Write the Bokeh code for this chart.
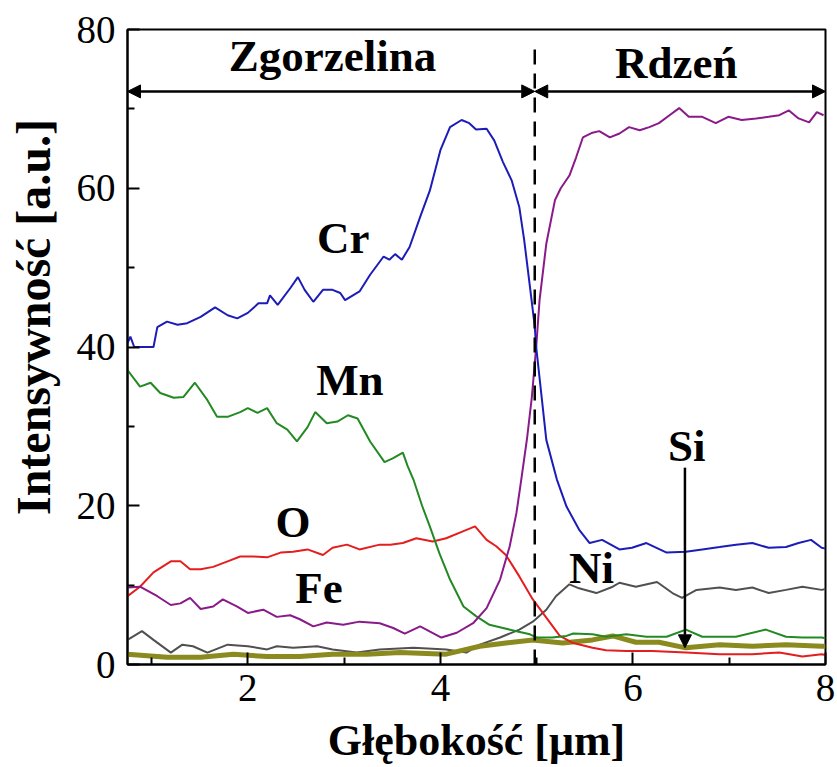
from bokeh.plotting import figure
from bokeh.models import FixedTicker, Arrow, NormalHead, Range1d
from bokeh.core.properties import value
from bokeh.embed import file_html
from bokeh.resources import INLINE

# ---------------- data ----------------
cr_x = [0.75, 0.78, 0.82, 1.02, 1.06, 1.16, 1.27, 1.37, 1.51, 1.66, 1.79, 1.89, 2.00, 2.11, 2.20, 2.23, 2.31, 2.44, 2.52, 2.59, 2.68, 2.78, 2.88, 2.96, 3.01, 3.16, 3.27, 3.41, 3.47, 3.53, 3.60, 3.68, 3.79, 3.89, 4.00, 4.10, 4.22, 4.30, 4.37, 4.48, 4.56, 4.65, 4.74, 4.82, 4.87, 4.93, 4.98, 4.995, 5.10, 5.21, 5.31, 5.44, 5.55, 5.68, 5.86, 5.99, 6.14, 6.35, 6.55, 6.72, 6.90, 7.07, 7.24, 7.41, 7.59, 7.72, 7.85, 7.96, 8.00]
cr_y = [40.5, 41.3, 40.0, 40.0, 42.5, 43.2, 42.8, 43.0, 43.8, 45.0, 44.0, 43.6, 44.3, 45.5, 45.5, 46.5, 45.3, 47.4, 48.8, 47.2, 45.7, 47.2, 47.2, 46.8, 45.9, 47.0, 49.1, 51.4, 51.0, 51.7, 51.0, 52.6, 56.4, 59.7, 64.8, 67.7, 68.6, 68.2, 67.4, 67.5, 66.0, 63.3, 61.0, 57.6, 53.5, 47.6, 42.6, 40.0, 28.3, 23.3, 19.9, 17.0, 15.3, 15.7, 14.5, 14.7, 15.3, 14.1, 14.2, 14.5, 14.8, 15.1, 15.3, 14.7, 14.8, 15.3, 15.7, 14.7, 14.6]

fe_x = [0.75, 0.88, 1.06, 1.20, 1.30, 1.40, 1.51, 1.64, 1.74, 1.89, 2.00, 2.16, 2.30, 2.44, 2.54, 2.68, 2.82, 2.99, 3.16, 3.37, 3.51, 3.63, 3.79, 4.01, 4.17, 4.34, 4.48, 4.62, 4.72, 4.79, 4.84, 4.90, 4.95, 4.995, 5.03, 5.10, 5.19, 5.25, 5.34, 5.41, 5.48, 5.58, 5.65, 5.76, 5.86, 5.96, 6.07, 6.17, 6.27, 6.38, 6.48, 6.58, 6.72, 6.86, 6.99, 7.13, 7.28, 7.41, 7.52, 7.62, 7.72, 7.83, 7.91, 7.98]
fe_y = [9.7, 9.8, 8.6, 7.5, 7.7, 8.4, 7.0, 7.3, 8.2, 7.3, 6.5, 6.9, 6.0, 6.2, 5.7, 4.8, 5.3, 5.0, 5.4, 5.2, 4.6, 3.9, 4.8, 3.4, 4.0, 5.2, 7.1, 10.7, 14.9, 19.1, 23.3, 28.5, 33.7, 40.0, 45.9, 53.0, 58.5, 60.0, 61.6, 63.9, 66.4, 67.0, 67.2, 66.4, 66.9, 67.7, 67.3, 67.7, 68.2, 69.2, 70.1, 69.0, 69.0, 68.2, 69.0, 68.6, 68.8, 69.0, 69.2, 69.8, 68.8, 68.3, 69.6, 69.2]

mn_x = [0.75, 0.88, 0.99, 1.09, 1.23, 1.33, 1.45, 1.58, 1.68, 1.79, 1.92, 2.00, 2.10, 2.20, 2.30, 2.41, 2.51, 2.62, 2.70, 2.82, 2.93, 3.04, 3.14, 3.27, 3.42, 3.51, 3.61, 3.66, 3.72, 3.81, 3.89, 3.99, 4.10, 4.24, 4.37, 4.51, 4.65, 4.79, 4.93, 5.00, 5.16, 5.31, 5.38, 5.58, 5.72, 5.93, 6.14, 6.35, 6.55, 6.72, 6.90, 7.07, 7.38, 7.59, 7.76, 7.96, 8.00]
mn_y = [37.1, 35.0, 35.5, 34.2, 33.6, 33.7, 35.5, 33.3, 31.2, 31.2, 31.8, 32.3, 31.7, 32.3, 30.4, 29.6, 28.1, 29.9, 31.8, 30.4, 30.6, 31.4, 31.0, 28.1, 25.5, 26.0, 26.7, 25.0, 23.3, 20.0, 17.4, 14.0, 10.7, 7.3, 6.1, 5.0, 4.6, 4.2, 3.8, 3.4, 3.4, 3.6, 3.9, 3.8, 3.5, 3.8, 3.5, 3.5, 4.4, 3.5, 3.5, 3.5, 4.4, 3.5, 3.4, 3.4, 3.3]

o_x = [0.75, 0.88, 1.02, 1.20, 1.30, 1.40, 1.51, 1.64, 1.79, 1.92, 2.06, 2.20, 2.34, 2.47, 2.62, 2.78, 2.88, 3.03, 3.16, 3.37, 3.48, 3.61, 3.75, 3.92, 4.06, 4.24, 4.36, 4.48, 4.58, 4.68, 4.82, 4.96, 5.10, 5.24, 5.38, 5.58, 5.72, 5.93, 6.20, 6.55, 6.90, 7.24, 7.52, 7.76, 7.96, 8.00]
o_y = [8.6, 9.8, 11.6, 13.0, 13.0, 12.0, 12.0, 12.3, 13.0, 13.6, 13.6, 13.5, 14.1, 14.2, 14.5, 13.8, 14.7, 15.1, 14.5, 15.1, 15.1, 15.3, 15.9, 15.5, 15.9, 16.8, 17.4, 15.7, 14.9, 13.8, 11.1, 8.2, 5.9, 3.6, 2.7, 2.1, 1.8, 1.7, 1.7, 1.5, 1.3, 1.3, 1.5, 1.0, 1.3, 1.2]

ni_x = [0.75, 0.90, 1.02, 1.20, 1.32, 1.43, 1.58, 1.79, 2.00, 2.20, 2.30, 2.47, 2.72, 2.88, 3.13, 3.37, 3.72, 4.06, 4.27, 4.41, 4.62, 4.82, 4.96, 5.10, 5.20, 5.34, 5.44, 5.62, 5.79, 5.86, 6.03, 6.25, 6.41, 6.51, 6.66, 6.90, 7.07, 7.24, 7.41, 7.59, 7.76, 7.96, 8.00]
ni_y = [3.1, 4.2, 3.1, 1.5, 2.5, 2.3, 1.5, 2.5, 2.3, 1.9, 2.3, 2.1, 2.3, 1.9, 1.5, 1.9, 2.1, 1.9, 1.5, 2.5, 3.4, 4.4, 5.4, 6.9, 8.6, 10.1, 9.6, 9.0, 9.8, 10.3, 9.8, 10.4, 9.0, 8.4, 9.4, 9.7, 9.4, 9.7, 9.0, 9.4, 9.8, 9.4, 9.5]

si_x = [0.75, 1.16, 1.51, 1.85, 2.20, 2.54, 2.88, 3.24, 3.58, 4.06, 4.41, 4.68, 4.96, 5.27, 5.58, 5.79, 6.03, 6.27, 6.55, 6.90, 7.24, 7.59, 7.96, 8.00]
si_y = [1.3, 0.9, 0.9, 1.3, 1.0, 1.0, 1.3, 1.3, 1.5, 1.3, 2.3, 2.7, 3.1, 2.7, 3.1, 3.6, 2.8, 2.8, 2.1, 2.5, 2.3, 2.5, 2.3, 2.3]

element_labels = ["Cr", "Mn", "O", "Fe", "Ni", "Si"]
element_label_x = [2.99, 3.06, 2.47, 2.74, 5.57, 6.56]
element_label_y = [53.7, 35.8, 18.0, 9.6, 12.2, 27.5]

region_labels = ["Zgorzelina", "Rdzeń"]
region_label_x = [2.88, 6.45]
region_label_y = [76.6, 75.8]

boundary_x = 4.98
boundary_top = 78.0
region_arrow_y = 72.2
si_arrow_x = 6.54
si_arrow_from = 24.8
si_arrow_to = 2.1

x_ticks = [2, 4, 6, 8]
x_minor = [1, 3, 5, 7]
y_ticks = [0, 20, 40, 60, 80]
y_minor = [10, 30, 50, 70]
x_lo, x_hi = 0.75, 8.0
y_lo, y_hi = 0.0, 80.0

x_title = "Głębokość [μm]"
y_title = "Intensywność [a.u.]"

SERIF = "Liberation Serif"
NBSP = "\u00a0"

# ---------------- figure ----------------
p = figure(width=837, height=767, output_backend="svg", toolbar_location=None,
           x_range=Range1d(x_lo, x_hi), y_range=Range1d(y_lo, y_hi),
           min_border_left=127, min_border_right=12, min_border_top=29, min_border_bottom=102)
p.background_fill_color = "white"
p.border_fill_color = "white"
p.outline_line_color = "black"
p.outline_line_width = 2
p.xgrid.visible = False
p.ygrid.visible = False

for ax in (p.xaxis[0], p.yaxis[0]):
    ax.axis_line_width = 2
    ax.major_tick_in = 12
    ax.major_tick_out = 0
    ax.minor_tick_in = 7
    ax.minor_tick_out = 0
    ax.major_tick_line_width = 2
    ax.minor_tick_line_width = 2
    ax.major_label_text_font = SERIF
    ax.major_label_text_font_size = "39px"
    ax.major_label_text_color = "black"
    ax.axis_label_text_font = SERIF
    ax.axis_label_text_font_style = "bold"
    ax.axis_label_text_color = "black"

p.xaxis.ticker = FixedTicker(ticks=x_ticks, minor_ticks=x_minor)
p.yaxis.ticker = FixedTicker(ticks=y_ticks, minor_ticks=y_minor)
p.xaxis.axis_label = x_title
# leading non-breaking spaces lift the centred vertical title, as in the original
p.yaxis.axis_label = NBSP * 5 + y_title
p.xaxis.axis_label_text_font_size = "44px"
p.yaxis.axis_label_text_font_size = "48px"
p.xaxis.major_label_standoff = 10
p.yaxis.major_label_standoff = 12
p.xaxis.axis_label_standoff = 12
p.yaxis.axis_label_standoff = 14

# ---------------- curves ----------------
p.line(ni_x, ni_y, line_color="#505050", line_width=2)
p.line(si_x, si_y, line_color="#8a8a1e", line_width=5)
p.line(o_x, o_y, line_color="#e41e1e", line_width=2)
p.line(mn_x, mn_y, line_color="#238a23", line_width=2)
p.line(fe_x, fe_y, line_color="#8a1a8a", line_width=2)
p.line(cr_x, cr_y, line_color="#1c1cb8", line_width=2)

# boundary dashed line
p.segment(x0=[boundary_x], y0=[y_lo], x1=[boundary_x], y1=[boundary_top],
          line_color="black", line_width=2.5, line_dash="15 9")

# region arrows
def head():
    return NormalHead(size=13, fill_color="black", line_color="black", line_width=1)

p.add_layout(Arrow(start=head(), end=head(), x_start=x_lo, y_start=region_arrow_y,
                   x_end=boundary_x, y_end=region_arrow_y, line_width=2.5, line_color="black"))
p.add_layout(Arrow(start=head(), end=head(), x_start=boundary_x, y_start=region_arrow_y,
                   x_end=x_hi, y_end=region_arrow_y, line_width=2.5, line_color="black"))
p.add_layout(Arrow(end=head(), x_start=si_arrow_x, y_start=si_arrow_from,
                   x_end=si_arrow_x, y_end=si_arrow_to, line_width=2.5, line_color="black"))

# texts
p.text(x=element_label_x, y=element_label_y, text=element_labels,
       text_font=value(SERIF), text_font_style="bold", text_font_size="45px",
       text_align="center", text_baseline="middle", text_color="black")
p.text(x=region_label_x, y=region_label_y, text=region_labels,
       text_font=value(SERIF), text_font_style="bold", text_font_size="45px",
       text_align="center", text_baseline="middle", text_color="black")

open("out.html", "w").write(file_html(p, INLINE))
